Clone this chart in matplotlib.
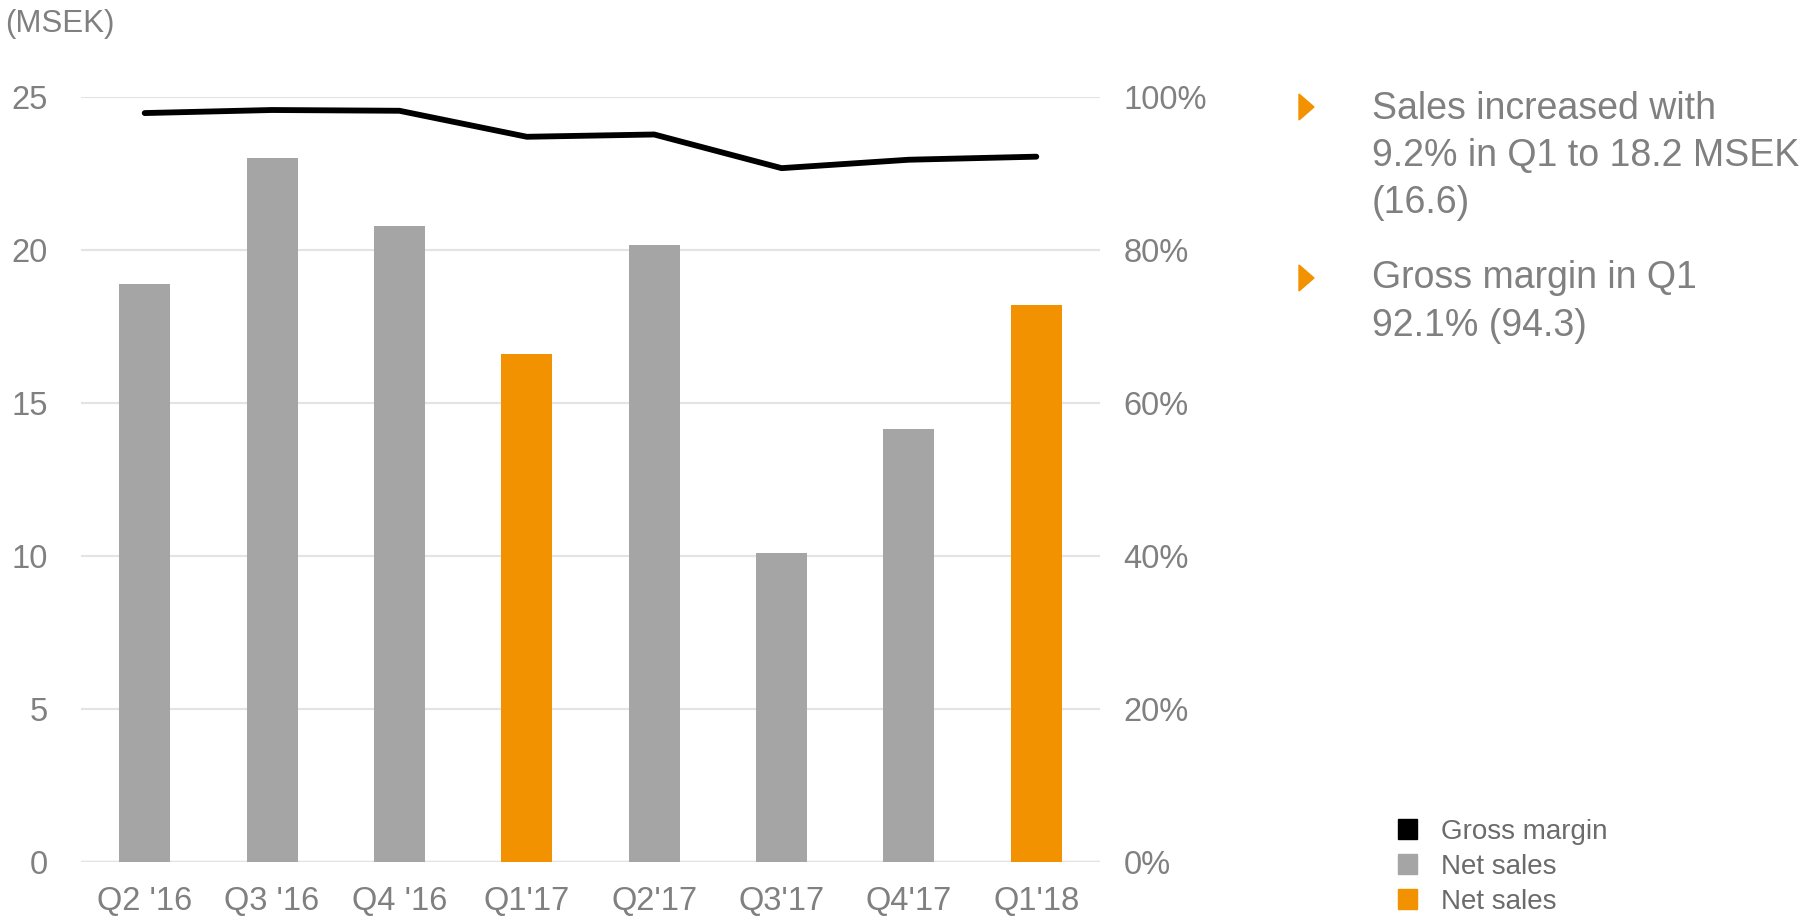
import matplotlib
matplotlib.use("Agg")
import matplotlib.pyplot as plt
from matplotlib.patches import Polygon, Patch
from matplotlib.ticker import PercentFormatter

plt.rcParams['font.family'] = ['Liberation Sans', 'DejaVu Sans']

# data
quarters = ["Q2 '16", "Q3 '16", "Q4 '16", "Q1'17", "Q2'17", "Q3'17", "Q4'17", "Q1'18"]
net_sales = [18.9, 23.0, 20.8, 16.6, 20.15, 10.1, 14.15, 18.2]
gross_margin = [97.9, 98.3, 98.2, 94.8, 95.1, 90.7, 91.8, 92.2]
highlight = [False, False, False, True, False, False, False, True]

grey = '#A5A5A5'
orange = '#F39200'
txt = '#808080'
grid = '#E3E3E3'

W, H = 1807, 923
fig = plt.figure(figsize=(W / 100, H / 100), dpi=100)
ax = fig.add_axes([81 / W, (H - 862) / H, (1100 - 81) / W, (862 - 97) / H])

x = range(len(quarters))
colors = [orange if h else grey for h in highlight]
ax.bar(x, net_sales, width=0.4, color=colors, zorder=2)
ax.set_xlim(-0.5, len(quarters) - 0.5)
ax.set_ylim(0, 25)
ax.set_yticks([0, 5, 10, 15, 20, 25])
ax.set_xticks(list(x))
ax.set_xticklabels(quarters)
ax.grid(axis='y', color=grid, lw=1.5, zorder=0)
for s in ax.spines.values():
    s.set_visible(False)
ax.tick_params(axis='both', length=0, labelsize=23.5, colors=txt)
ax.tick_params(axis='y', pad=24)
ax.tick_params(axis='x', pad=17)
ax.axhline(0, color='#DDDDDD', lw=2.5, zorder=1)

ax2 = ax.twinx()
ax2.plot(list(x), gross_margin, color='black', lw=4.2, solid_capstyle='round', zorder=3)
ax2.set_ylim(0, 100)
ax2.set_yticks([0, 20, 40, 60, 80, 100])
ax2.yaxis.set_major_formatter(PercentFormatter(decimals=0))
for s in ax2.spines.values():
    s.set_visible(False)
ax2.tick_params(axis='y', length=0, labelsize=23.5, colors=txt, pad=17)

fig.text(5 / W, 1 - 24 / H, '(MSEK)', fontsize=22.5, color=txt, ha='left', va='center')

# commentary
notes = ["Sales increased with\n9.2% in Q1 to 18.2 MSEK\n(16.6)",
         "Gross margin in Q1\n92.1% (94.3)"]
note_y = [156, 302]
tri_y = [107, 278]
for note, ny, ty in zip(notes, note_y, tri_y):
    fig.text(1372 / W, 1 - ny / H, note, fontsize=27, color=txt,
             ha='left', va='center', linespacing=1.4)
    tri = Polygon([[1299 / W, 1 - (ty - 13) / H], [1299 / W, 1 - (ty + 13) / H],
                   [1314 / W, 1 - ty / H]], closed=True, color=orange,
                  transform=fig.transFigure)
    fig.add_artist(tri)

handles = [Patch(color='black', label='Gross margin'),
           Patch(color=grey, label='Net sales'),
           Patch(color=orange, label='Net sales')]
leg = fig.legend(handles=handles, loc='upper left', bbox_to_anchor=(1384 / W, 1 - 805 / H),
                 frameon=False, fontsize=20, handlelength=0.7, handleheight=0.7,
                 handletextpad=0.85, labelspacing=0.32, borderpad=0)
for t in leg.get_texts():
    t.set_color('#6B6B6B')

fig.savefig('out.png', dpi=100)
